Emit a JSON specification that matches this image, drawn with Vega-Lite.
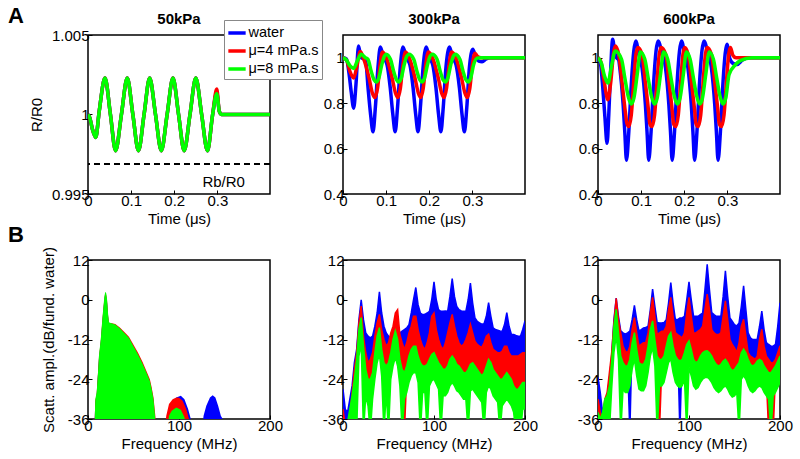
{
"$schema": "https://vega.github.io/schema/vega-lite/v6.json",
"padding": {"left": 7, "top": 4, "right": 5, "bottom": 5},
"background": "white",
"config": {
  "font": "Liberation Sans",
  "view": {"stroke": "black", "strokeWidth": 1.5},
  "axis": {"domain": false, "grid": false, "labelFontSize": 15, "labelColor": "black", "titleFontSize": 15, "titleFontWeight": "normal", "titleColor": "black", "tickColor": "black", "tickSize": -4, "tickWidth": 1, "labelPadding": 3, "labelFlush": false, "labelOverlap": false, "labelBound": false},
  "axisY": {"titlePadding": 7},
  "axisX": {"titlePadding": 3}
},
"datasets": {
"a1": [
{"s":"water","t":0,"v":1},{"s":"water","t":0.004,"v":0.9998},{"s":"water","t":0.01,"v":0.9991},{"s":"water","t":0.018,"v":0.99856},{"s":"water","t":0.026,"v":1.0002},{"s":"water","t":0.0394,"v":1.0023},{"s":"water","t":0.052,"v":1},{"s":"water","t":0.064,"v":0.99772},{"s":"water","t":0.0775,"v":1},{"s":"water","t":0.091,"v":1.0023},{"s":"water","t":0.104,"v":1},{"s":"water","t":0.117,"v":0.99772},{"s":"water","t":0.13,"v":1},{"s":"water","t":0.143,"v":1.0023},{"s":"water","t":0.1565,"v":1},{"s":"water","t":0.17,"v":0.99772},{"s":"water","t":0.1835,"v":1},{"s":"water","t":0.197,"v":1.0023},{"s":"water","t":0.21,"v":1},{"s":"water","t":0.223,"v":0.99772},{"s":"water","t":0.2365,"v":1},{"s":"water","t":0.25,"v":1.0023},{"s":"water","t":0.2635,"v":1},{"s":"water","t":0.277,"v":0.99772},{"s":"water","t":0.289,"v":1},{"s":"water","t":0.2985,"v":1.0014},{"s":"water","t":0.3045,"v":1.0002},{"s":"water","t":0.31,"v":1},{"s":"water","t":0.422,"v":1},
{"s":"μ=4 mPa.s","t":0,"v":1},{"s":"μ=4 mPa.s","t":0.004,"v":0.9998},{"s":"μ=4 mPa.s","t":0.01,"v":0.9991},{"s":"μ=4 mPa.s","t":0.018,"v":0.99856},{"s":"μ=4 mPa.s","t":0.026,"v":1.0002},{"s":"μ=4 mPa.s","t":0.0394,"v":1.0023},{"s":"μ=4 mPa.s","t":0.052,"v":1},{"s":"μ=4 mPa.s","t":0.064,"v":0.99772},{"s":"μ=4 mPa.s","t":0.0775,"v":1},{"s":"μ=4 mPa.s","t":0.091,"v":1.0023},{"s":"μ=4 mPa.s","t":0.104,"v":1},{"s":"μ=4 mPa.s","t":0.117,"v":0.99772},{"s":"μ=4 mPa.s","t":0.13,"v":1},{"s":"μ=4 mPa.s","t":0.143,"v":1.0023},{"s":"μ=4 mPa.s","t":0.1565,"v":1},{"s":"μ=4 mPa.s","t":0.17,"v":0.99772},{"s":"μ=4 mPa.s","t":0.1835,"v":1},{"s":"μ=4 mPa.s","t":0.197,"v":1.0023},{"s":"μ=4 mPa.s","t":0.21,"v":1},{"s":"μ=4 mPa.s","t":0.223,"v":0.99772},{"s":"μ=4 mPa.s","t":0.2365,"v":1},{"s":"μ=4 mPa.s","t":0.25,"v":1.0023},{"s":"μ=4 mPa.s","t":0.2635,"v":1},{"s":"μ=4 mPa.s","t":0.277,"v":0.99772},{"s":"μ=4 mPa.s","t":0.289,"v":1},{"s":"μ=4 mPa.s","t":0.2985,"v":1.0016},{"s":"μ=4 mPa.s","t":0.3045,"v":1.0002},{"s":"μ=4 mPa.s","t":0.31,"v":1},{"s":"μ=4 mPa.s","t":0.422,"v":1},
{"s":"μ=8 mPa.s","t":0,"v":1},{"s":"μ=8 mPa.s","t":0.004,"v":0.9998},{"s":"μ=8 mPa.s","t":0.01,"v":0.9991},{"s":"μ=8 mPa.s","t":0.018,"v":0.99856},{"s":"μ=8 mPa.s","t":0.026,"v":1.0002},{"s":"μ=8 mPa.s","t":0.0394,"v":1.0023},{"s":"μ=8 mPa.s","t":0.052,"v":1},{"s":"μ=8 mPa.s","t":0.064,"v":0.99772},{"s":"μ=8 mPa.s","t":0.0775,"v":1},{"s":"μ=8 mPa.s","t":0.091,"v":1.0023},{"s":"μ=8 mPa.s","t":0.104,"v":1},{"s":"μ=8 mPa.s","t":0.117,"v":0.99772},{"s":"μ=8 mPa.s","t":0.13,"v":1},{"s":"μ=8 mPa.s","t":0.143,"v":1.0023},{"s":"μ=8 mPa.s","t":0.1565,"v":1},{"s":"μ=8 mPa.s","t":0.17,"v":0.99772},{"s":"μ=8 mPa.s","t":0.1835,"v":1},{"s":"μ=8 mPa.s","t":0.197,"v":1.0023},{"s":"μ=8 mPa.s","t":0.21,"v":1},{"s":"μ=8 mPa.s","t":0.223,"v":0.99772},{"s":"μ=8 mPa.s","t":0.2365,"v":1},{"s":"μ=8 mPa.s","t":0.25,"v":1.0023},{"s":"μ=8 mPa.s","t":0.2635,"v":1},{"s":"μ=8 mPa.s","t":0.277,"v":0.99772},{"s":"μ=8 mPa.s","t":0.289,"v":1},{"s":"μ=8 mPa.s","t":0.2985,"v":1.0013},{"s":"μ=8 mPa.s","t":0.3045,"v":1.0002},{"s":"μ=8 mPa.s","t":0.31,"v":1},{"s":"μ=8 mPa.s","t":0.422,"v":1}
],
"a2": [
{"s":"water","t":0,"v":1},{"s":"water","t":0.008,"v":0.995},{"s":"water","t":0.014,"v":0.93},{"s":"water","t":0.019,"v":0.85},{"s":"water","t":0.0247,"v":0.778},{"s":"water","t":0.03,"v":0.88},{"s":"water","t":0.036,"v":1.052},{"s":"water","t":0.042,"v":1},{"s":"water","t":0.048,"v":0.995},{"s":"water","t":0.053,"v":0.98},{"s":"water","t":0.058,"v":0.87},{"s":"water","t":0.064,"v":0.75},{"s":"water","t":0.0696,"v":0.674},{"s":"water","t":0.075,"v":0.78},{"s":"water","t":0.081,"v":0.955},{"s":"water","t":0.0866,"v":1.047},{"s":"water","t":0.094,"v":1},{"s":"water","t":0.102,"v":0.97},{"s":"water","t":0.1094,"v":0.87},{"s":"water","t":0.1156,"v":0.75},{"s":"water","t":0.121,"v":0.674},{"s":"water","t":0.1264,"v":0.78},{"s":"water","t":0.1326,"v":0.955},{"s":"water","t":0.139,"v":1.047},{"s":"water","t":0.147,"v":1},{"s":"water","t":0.155,"v":0.97},{"s":"water","t":0.1624,"v":0.87},{"s":"water","t":0.1686,"v":0.75},{"s":"water","t":0.174,"v":0.674},{"s":"water","t":0.1794,"v":0.78},{"s":"water","t":0.1856,"v":0.955},{"s":"water","t":0.193,"v":1.047},{"s":"water","t":0.2,"v":1},{"s":"water","t":0.208,"v":0.97},{"s":"water","t":0.2154,"v":0.87},{"s":"water","t":0.2216,"v":0.75},{"s":"water","t":0.227,"v":0.674},{"s":"water","t":0.2324,"v":0.78},{"s":"water","t":0.2386,"v":0.955},{"s":"water","t":0.247,"v":1.047},{"s":"water","t":0.254,"v":1},{"s":"water","t":0.262,"v":0.97},{"s":"water","t":0.2698,"v":0.87},{"s":"water","t":0.276,"v":0.75},{"s":"water","t":0.2815,"v":0.674},{"s":"water","t":0.287,"v":0.78},{"s":"water","t":0.293,"v":0.955},{"s":"water","t":0.301,"v":1.037},{"s":"water","t":0.308,"v":1},{"s":"water","t":0.315,"v":0.985},{"s":"water","t":0.3225,"v":0.982},{"s":"water","t":0.332,"v":0.995},{"s":"water","t":0.342,"v":1},{"s":"water","t":0.422,"v":1},
{"s":"μ=4 mPa.s","t":0,"v":1},{"s":"μ=4 mPa.s","t":0.008,"v":0.99},{"s":"μ=4 mPa.s","t":0.016,"v":0.94},{"s":"μ=4 mPa.s","t":0.0247,"v":0.911},{"s":"μ=4 mPa.s","t":0.032,"v":0.96},{"s":"μ=4 mPa.s","t":0.04,"v":1.027},{"s":"μ=4 mPa.s","t":0.048,"v":0.995},{"s":"μ=4 mPa.s","t":0.0605,"v":0.91},{"s":"μ=4 mPa.s","t":0.068,"v":0.845},{"s":"μ=4 mPa.s","t":0.0735,"v":0.825},{"s":"μ=4 mPa.s","t":0.08,"v":0.865},{"s":"μ=4 mPa.s","t":0.086,"v":0.97},{"s":"μ=4 mPa.s","t":0.0915,"v":1.025},{"s":"μ=4 mPa.s","t":0.102,"v":0.993},{"s":"μ=4 mPa.s","t":0.114,"v":0.91},{"s":"μ=4 mPa.s","t":0.1216,"v":0.845},{"s":"μ=4 mPa.s","t":0.127,"v":0.825},{"s":"μ=4 mPa.s","t":0.133,"v":0.865},{"s":"μ=4 mPa.s","t":0.139,"v":0.97},{"s":"μ=4 mPa.s","t":0.1448,"v":1.025},{"s":"μ=4 mPa.s","t":0.155,"v":0.993},{"s":"μ=4 mPa.s","t":0.167,"v":0.91},{"s":"μ=4 mPa.s","t":0.1746,"v":0.845},{"s":"μ=4 mPa.s","t":0.18,"v":0.825},{"s":"μ=4 mPa.s","t":0.186,"v":0.865},{"s":"μ=4 mPa.s","t":0.192,"v":0.97},{"s":"μ=4 mPa.s","t":0.1978,"v":1.025},{"s":"μ=4 mPa.s","t":0.209,"v":0.993},{"s":"μ=4 mPa.s","t":0.221,"v":0.91},{"s":"μ=4 mPa.s","t":0.2286,"v":0.845},{"s":"μ=4 mPa.s","t":0.234,"v":0.825},{"s":"μ=4 mPa.s","t":0.24,"v":0.865},{"s":"μ=4 mPa.s","t":0.246,"v":0.97},{"s":"μ=4 mPa.s","t":0.2518,"v":1.025},{"s":"μ=4 mPa.s","t":0.263,"v":0.993},{"s":"μ=4 mPa.s","t":0.275,"v":0.91},{"s":"μ=4 mPa.s","t":0.2826,"v":0.845},{"s":"μ=4 mPa.s","t":0.288,"v":0.825},{"s":"μ=4 mPa.s","t":0.294,"v":0.865},{"s":"μ=4 mPa.s","t":0.3,"v":0.97},{"s":"μ=4 mPa.s","t":0.306,"v":1.02},{"s":"μ=4 mPa.s","t":0.312,"v":1.005},{"s":"μ=4 mPa.s","t":0.32,"v":1},{"s":"μ=4 mPa.s","t":0.422,"v":1},
{"s":"μ=8 mPa.s","t":0,"v":1},{"s":"μ=8 mPa.s","t":0.008,"v":0.99},{"s":"μ=8 mPa.s","t":0.016,"v":0.965},{"s":"μ=8 mPa.s","t":0.0247,"v":0.953},{"s":"μ=8 mPa.s","t":0.033,"v":0.985},{"s":"μ=8 mPa.s","t":0.042,"v":1.015},{"s":"μ=8 mPa.s","t":0.052,"v":1},{"s":"μ=8 mPa.s","t":0.058,"v":0.993},{"s":"μ=8 mPa.s","t":0.0654,"v":0.94},{"s":"μ=8 mPa.s","t":0.0716,"v":0.904},{"s":"μ=8 mPa.s","t":0.077,"v":0.893},{"s":"μ=8 mPa.s","t":0.083,"v":0.91},{"s":"μ=8 mPa.s","t":0.09,"v":0.97},{"s":"μ=8 mPa.s","t":0.096,"v":1.007},{"s":"μ=8 mPa.s","t":0.1,"v":1.015},{"s":"μ=8 mPa.s","t":0.11,"v":0.993},{"s":"μ=8 mPa.s","t":0.1174,"v":0.94},{"s":"μ=8 mPa.s","t":0.1236,"v":0.904},{"s":"μ=8 mPa.s","t":0.129,"v":0.893},{"s":"μ=8 mPa.s","t":0.135,"v":0.91},{"s":"μ=8 mPa.s","t":0.142,"v":0.97},{"s":"μ=8 mPa.s","t":0.148,"v":1.007},{"s":"μ=8 mPa.s","t":0.153,"v":1.015},{"s":"μ=8 mPa.s","t":0.164,"v":0.993},{"s":"μ=8 mPa.s","t":0.1714,"v":0.94},{"s":"μ=8 mPa.s","t":0.1776,"v":0.904},{"s":"μ=8 mPa.s","t":0.183,"v":0.893},{"s":"μ=8 mPa.s","t":0.189,"v":0.91},{"s":"μ=8 mPa.s","t":0.196,"v":0.97},{"s":"μ=8 mPa.s","t":0.202,"v":1.007},{"s":"μ=8 mPa.s","t":0.207,"v":1.015},{"s":"μ=8 mPa.s","t":0.218,"v":0.993},{"s":"μ=8 mPa.s","t":0.2254,"v":0.94},{"s":"μ=8 mPa.s","t":0.2316,"v":0.904},{"s":"μ=8 mPa.s","t":0.237,"v":0.893},{"s":"μ=8 mPa.s","t":0.243,"v":0.91},{"s":"μ=8 mPa.s","t":0.25,"v":0.97},{"s":"μ=8 mPa.s","t":0.256,"v":1.007},{"s":"μ=8 mPa.s","t":0.26,"v":1.015},{"s":"μ=8 mPa.s","t":0.271,"v":0.993},{"s":"μ=8 mPa.s","t":0.2784,"v":0.94},{"s":"μ=8 mPa.s","t":0.2846,"v":0.904},{"s":"μ=8 mPa.s","t":0.29,"v":0.893},{"s":"μ=8 mPa.s","t":0.296,"v":0.91},{"s":"μ=8 mPa.s","t":0.303,"v":0.97},{"s":"μ=8 mPa.s","t":0.311,"v":0.998},{"s":"μ=8 mPa.s","t":0.32,"v":1},{"s":"μ=8 mPa.s","t":0.422,"v":1}
],
"a3": [
{"s":"water","t":0,"v":1},{"s":"water","t":0.006,"v":0.97},{"s":"water","t":0.011,"v":0.87},{"s":"water","t":0.016,"v":0.74},{"s":"water","t":0.021,"v":0.623},{"s":"water","t":0.025,"v":0.75},{"s":"water","t":0.029,"v":0.93},{"s":"water","t":0.034,"v":1.081},{"s":"water","t":0.039,"v":1.02},{"s":"water","t":0.043,"v":1},{"s":"water","t":0.048,"v":0.99},{"s":"water","t":0.0505,"v":0.956},{"s":"water","t":0.0583,"v":0.793},{"s":"water","t":0.0621,"v":0.674},{"s":"water","t":0.066,"v":0.549},{"s":"water","t":0.0714,"v":0.674},{"s":"water","t":0.0776,"v":0.896},{"s":"water","t":0.083,"v":1.03},{"s":"water","t":0.0876,"v":1.074},{"s":"water","t":0.0946,"v":1.015},{"s":"water","t":0.1021,"v":0.956},{"s":"water","t":0.1099,"v":0.793},{"s":"water","t":0.1137,"v":0.674},{"s":"water","t":0.1176,"v":0.549},{"s":"water","t":0.123,"v":0.674},{"s":"water","t":0.1292,"v":0.896},{"s":"water","t":0.1346,"v":1.03},{"s":"water","t":0.1392,"v":1.074},{"s":"water","t":0.149,"v":1.015},{"s":"water","t":0.1565,"v":0.956},{"s":"water","t":0.1643,"v":0.793},{"s":"water","t":0.1681,"v":0.674},{"s":"water","t":0.172,"v":0.549},{"s":"water","t":0.1774,"v":0.674},{"s":"water","t":0.1836,"v":0.896},{"s":"water","t":0.189,"v":1.03},{"s":"water","t":0.1936,"v":1.074},{"s":"water","t":0.201,"v":1.015},{"s":"water","t":0.2085,"v":0.956},{"s":"water","t":0.2163,"v":0.793},{"s":"water","t":0.2201,"v":0.674},{"s":"water","t":0.224,"v":0.549},{"s":"water","t":0.2294,"v":0.674},{"s":"water","t":0.2356,"v":0.896},{"s":"water","t":0.241,"v":1.03},{"s":"water","t":0.2456,"v":1.074},{"s":"water","t":0.2554,"v":1.015},{"s":"water","t":0.2629,"v":0.956},{"s":"water","t":0.2707,"v":0.793},{"s":"water","t":0.2745,"v":0.674},{"s":"water","t":0.2784,"v":0.549},{"s":"water","t":0.2838,"v":0.674},{"s":"water","t":0.29,"v":0.896},{"s":"water","t":0.295,"v":1.02},{"s":"water","t":0.299,"v":1.059},{"s":"water","t":0.305,"v":1},{"s":"water","t":0.313,"v":0.975},{"s":"water","t":0.3225,"v":0.97},{"s":"water","t":0.335,"v":0.99},{"s":"water","t":0.35,"v":1},{"s":"water","t":0.422,"v":1},
{"s":"μ=4 mPa.s","t":0,"v":1},{"s":"μ=4 mPa.s","t":0.007,"v":0.98},{"s":"μ=4 mPa.s","t":0.014,"v":0.9},{"s":"μ=4 mPa.s","t":0.023,"v":0.815},{"s":"μ=4 mPa.s","t":0.03,"v":0.9},{"s":"μ=4 mPa.s","t":0.036,"v":1.02},{"s":"μ=4 mPa.s","t":0.04,"v":1.052},{"s":"μ=4 mPa.s","t":0.048,"v":1.015},{"s":"μ=4 mPa.s","t":0.0555,"v":0.896},{"s":"μ=4 mPa.s","t":0.0633,"v":0.763},{"s":"μ=4 mPa.s","t":0.067,"v":0.711},{"s":"μ=4 mPa.s","t":0.071,"v":0.697},{"s":"μ=4 mPa.s","t":0.0772,"v":0.748},{"s":"μ=4 mPa.s","t":0.0834,"v":0.91},{"s":"μ=4 mPa.s","t":0.088,"v":1.015},{"s":"μ=4 mPa.s","t":0.0925,"v":1.045},{"s":"μ=4 mPa.s","t":0.102,"v":1.015},{"s":"μ=4 mPa.s","t":0.1095,"v":0.896},{"s":"μ=4 mPa.s","t":0.1173,"v":0.763},{"s":"μ=4 mPa.s","t":0.12,"v":0.711},{"s":"μ=4 mPa.s","t":0.125,"v":0.697},{"s":"μ=4 mPa.s","t":0.1312,"v":0.748},{"s":"μ=4 mPa.s","t":0.1374,"v":0.91},{"s":"μ=4 mPa.s","t":0.142,"v":1.015},{"s":"μ=4 mPa.s","t":0.1465,"v":1.045},{"s":"μ=4 mPa.s","t":0.157,"v":1.015},{"s":"μ=4 mPa.s","t":0.1645,"v":0.896},{"s":"μ=4 mPa.s","t":0.1723,"v":0.763},{"s":"μ=4 mPa.s","t":0.175,"v":0.711},{"s":"μ=4 mPa.s","t":0.18,"v":0.697},{"s":"μ=4 mPa.s","t":0.1862,"v":0.748},{"s":"μ=4 mPa.s","t":0.1924,"v":0.91},{"s":"μ=4 mPa.s","t":0.197,"v":1.015},{"s":"μ=4 mPa.s","t":0.201,"v":1.045},{"s":"μ=4 mPa.s","t":0.209,"v":1.015},{"s":"μ=4 mPa.s","t":0.2165,"v":0.896},{"s":"μ=4 mPa.s","t":0.2243,"v":0.763},{"s":"μ=4 mPa.s","t":0.227,"v":0.711},{"s":"μ=4 mPa.s","t":0.232,"v":0.697},{"s":"μ=4 mPa.s","t":0.2382,"v":0.748},{"s":"μ=4 mPa.s","t":0.2444,"v":0.91},{"s":"μ=4 mPa.s","t":0.249,"v":1.015},{"s":"μ=4 mPa.s","t":0.253,"v":1.045},{"s":"μ=4 mPa.s","t":0.263,"v":1.015},{"s":"μ=4 mPa.s","t":0.2705,"v":0.896},{"s":"μ=4 mPa.s","t":0.2783,"v":0.763},{"s":"μ=4 mPa.s","t":0.281,"v":0.711},{"s":"μ=4 mPa.s","t":0.286,"v":0.697},{"s":"μ=4 mPa.s","t":0.2922,"v":0.748},{"s":"μ=4 mPa.s","t":0.2984,"v":0.91},{"s":"μ=4 mPa.s","t":0.303,"v":1.015},{"s":"μ=4 mPa.s","t":0.307,"v":1.045},{"s":"μ=4 mPa.s","t":0.313,"v":1.01},{"s":"μ=4 mPa.s","t":0.32,"v":1},{"s":"μ=4 mPa.s","t":0.422,"v":1},
{"s":"μ=8 mPa.s","t":0,"v":1},{"s":"μ=8 mPa.s","t":0.008,"v":0.975},{"s":"μ=8 mPa.s","t":0.015,"v":0.92},{"s":"μ=8 mPa.s","t":0.023,"v":0.889},{"s":"μ=8 mPa.s","t":0.031,"v":0.96},{"s":"μ=8 mPa.s","t":0.04,"v":1.03},{"s":"μ=8 mPa.s","t":0.0546,"v":0.993},{"s":"μ=8 mPa.s","t":0.0623,"v":0.91},{"s":"μ=8 mPa.s","t":0.07,"v":0.83},{"s":"μ=8 mPa.s","t":0.077,"v":0.796},{"s":"μ=8 mPa.s","t":0.0832,"v":0.822},{"s":"μ=8 mPa.s","t":0.0909,"v":0.926},{"s":"μ=8 mPa.s","t":0.098,"v":1.025},{"s":"μ=8 mPa.s","t":0.1086,"v":0.993},{"s":"μ=8 mPa.s","t":0.1163,"v":0.91},{"s":"μ=8 mPa.s","t":0.124,"v":0.83},{"s":"μ=8 mPa.s","t":0.131,"v":0.796},{"s":"μ=8 mPa.s","t":0.1372,"v":0.822},{"s":"μ=8 mPa.s","t":0.1449,"v":0.926},{"s":"μ=8 mPa.s","t":0.152,"v":1.025},{"s":"μ=8 mPa.s","t":0.1616,"v":0.993},{"s":"μ=8 mPa.s","t":0.1693,"v":0.91},{"s":"μ=8 mPa.s","t":0.177,"v":0.83},{"s":"μ=8 mPa.s","t":0.184,"v":0.796},{"s":"μ=8 mPa.s","t":0.1902,"v":0.822},{"s":"μ=8 mPa.s","t":0.1979,"v":0.926},{"s":"μ=8 mPa.s","t":0.205,"v":1.025},{"s":"μ=8 mPa.s","t":0.2136,"v":0.993},{"s":"μ=8 mPa.s","t":0.2213,"v":0.91},{"s":"μ=8 mPa.s","t":0.229,"v":0.83},{"s":"μ=8 mPa.s","t":0.236,"v":0.796},{"s":"μ=8 mPa.s","t":0.2422,"v":0.822},{"s":"μ=8 mPa.s","t":0.2499,"v":0.926},{"s":"μ=8 mPa.s","t":0.258,"v":1.025},{"s":"μ=8 mPa.s","t":0.2676,"v":0.993},{"s":"μ=8 mPa.s","t":0.2753,"v":0.91},{"s":"μ=8 mPa.s","t":0.283,"v":0.83},{"s":"μ=8 mPa.s","t":0.29,"v":0.796},{"s":"μ=8 mPa.s","t":0.2962,"v":0.822},{"s":"μ=8 mPa.s","t":0.304,"v":0.926},{"s":"μ=8 mPa.s","t":0.319,"v":0.97},{"s":"μ=8 mPa.s","t":0.33,"v":0.987},{"s":"μ=8 mPa.s","t":0.357,"v":1},{"s":"μ=8 mPa.s","t":0.422,"v":1}
],
"b1": [
{"s":"w","f":0,"v":-40},{"s":"w","f":7,"v":-40},{"s":"w","f":8,"v":-31},{"s":"w","f":9.5,"v":-29},{"s":"w","f":12,"v":-18},{"s":"w","f":14,"v":-13},{"s":"w","f":16,"v":-6},{"s":"w","f":18,"v":0},{"s":"w","f":19,"v":1.5},{"s":"w","f":20,"v":1},{"s":"w","f":21,"v":-1},{"s":"w","f":22,"v":-5},{"s":"w","f":23,"v":-7.5},{"s":"w","f":30,"v":-8},{"s":"w","f":40,"v":-10.5},{"s":"w","f":50,"v":-14.5},{"s":"w","f":60,"v":-19.8},{"s":"w","f":68,"v":-25},{"s":"w","f":72,"v":-30.5},{"s":"w","f":74,"v":-40},{"s":"w","f":85,"v":-40},{"s":"w","f":87,"v":-35},{"s":"w","f":92,"v":-31},{"s":"w","f":97,"v":-29.5},{"s":"w","f":102,"v":-29},{"s":"w","f":106,"v":-30},{"s":"w","f":110,"v":-33},{"s":"w","f":113,"v":-36},{"s":"w","f":114,"v":-40},{"s":"w","f":125,"v":-40},{"s":"w","f":127,"v":-35},{"s":"w","f":130,"v":-32},{"s":"w","f":134,"v":-29.5},{"s":"w","f":137,"v":-28.8},{"s":"w","f":140,"v":-29.5},{"s":"w","f":143,"v":-32},{"s":"w","f":146,"v":-35},{"s":"w","f":148,"v":-36},{"s":"w","f":149,"v":-40},{"s":"w","f":200,"v":-40},
{"s":"r","f":0,"v":-40},{"s":"r","f":7,"v":-40},{"s":"r","f":8,"v":-30.5},{"s":"r","f":9.5,"v":-28.5},{"s":"r","f":12,"v":-17.5},{"s":"r","f":14,"v":-12.5},{"s":"r","f":16,"v":-5.5},{"s":"r","f":18,"v":0.5},{"s":"r","f":19,"v":2},{"s":"r","f":20,"v":1.5},{"s":"r","f":21,"v":-0.5},{"s":"r","f":22,"v":-4.5},{"s":"r","f":23,"v":-7},{"s":"r","f":25,"v":-7},{"s":"r","f":30,"v":-7.3},{"s":"r","f":35,"v":-8.4},{"s":"r","f":40,"v":-9.7},{"s":"r","f":45,"v":-11.2},{"s":"r","f":50,"v":-13.6},{"s":"r","f":55,"v":-16},{"s":"r","f":60,"v":-18.8},{"s":"r","f":65,"v":-22},{"s":"r","f":68,"v":-24},{"s":"r","f":70,"v":-26.5},{"s":"r","f":72,"v":-29.5},{"s":"r","f":74,"v":-35},{"s":"r","f":75,"v":-40},{"s":"r","f":84,"v":-40},{"s":"r","f":86,"v":-35},{"s":"r","f":89,"v":-31.5},{"s":"r","f":93,"v":-30},{"s":"r","f":97,"v":-29.5},{"s":"r","f":100,"v":-29.6},{"s":"r","f":104,"v":-30.5},{"s":"r","f":108,"v":-33},{"s":"r","f":111,"v":-36},{"s":"r","f":112,"v":-40},{"s":"r","f":200,"v":-40},
{"s":"g","f":0,"v":-40},{"s":"g","f":7,"v":-40},{"s":"g","f":8,"v":-30},{"s":"g","f":9.5,"v":-28},{"s":"g","f":11,"v":-22},{"s":"g","f":12,"v":-17},{"s":"g","f":14,"v":-12},{"s":"g","f":16,"v":-5},{"s":"g","f":18,"v":1},{"s":"g","f":19,"v":2.4},{"s":"g","f":20,"v":2},{"s":"g","f":21,"v":0},{"s":"g","f":22,"v":-4},{"s":"g","f":23,"v":-6.8},{"s":"g","f":25,"v":-7},{"s":"g","f":30,"v":-7.5},{"s":"g","f":35,"v":-8.6},{"s":"g","f":40,"v":-10},{"s":"g","f":45,"v":-11.5},{"s":"g","f":50,"v":-14},{"s":"g","f":55,"v":-16.5},{"s":"g","f":60,"v":-19.3},{"s":"g","f":65,"v":-22.5},{"s":"g","f":68,"v":-24.5},{"s":"g","f":70,"v":-27},{"s":"g","f":72,"v":-30},{"s":"g","f":74,"v":-36},{"s":"g","f":75,"v":-40},{"s":"g","f":87,"v":-40},{"s":"g","f":89,"v":-35},{"s":"g","f":92,"v":-33.5},{"s":"g","f":97,"v":-32.5},{"s":"g","f":102,"v":-33.2},{"s":"g","f":106,"v":-35.5},{"s":"g","f":108,"v":-40},{"s":"g","f":200,"v":-40}
],
"b2": [
{"f":0,"w":-27,"wl":-40,"r":-33,"rl":-40,"g":-40,"gl":-40},
{"f":2.5,"w":-33,"wl":-40,"r":-38,"rl":-40,"g":-40,"gl":-40},
{"f":5,"w":-34,"wl":-40,"r":-40,"rl":-40,"g":-37,"gl":-40},
{"f":7.5,"w":-30,"wl":-40,"r":-35,"rl":-40,"g":-33,"gl":-40},
{"f":10,"w":-26,"wl":-40,"r":-28,"rl":-40,"g":-29,"gl":-40},
{"f":12.5,"w":-19,"wl":-24,"r":-21,"rl":-27,"g":-24,"gl":-40},
{"f":15,"w":-15,"wl":-19,"r":-16,"rl":-21,"g":-18,"gl":-40},
{"f":17.5,"w":-6,"wl":-10,"r":-7,"rl":-12,"g":-9,"gl":-17},
{"f":20,"w":0,"wl":-4.9,"r":-1.9,"rl":-8.4,"g":-5.4,"gl":-13.4},
{"f":22.5,"w":-6,"wl":-14,"r":-11,"rl":-17,"g":-14,"gl":-40},
{"f":25,"w":-10,"wl":-19,"r":-16,"rl":-24,"g":-21,"gl":-29},
{"f":27.5,"w":-11,"wl":-22,"r":-19,"rl":-27,"g":-24,"gl":-32},
{"f":30,"w":-11.5,"wl":-21,"r":-18,"rl":-27,"g":-24,"gl":-40},
{"f":32.5,"w":-11,"wl":-19,"r":-16,"rl":-25,"g":-22,"gl":-30},
{"f":35,"w":-8,"wl":-14,"r":-11,"rl":-19,"g":-16,"gl":-24},
{"f":37.5,"w":-4,"wl":-10,"r":-7,"rl":-14,"g":-11,"gl":-19},
{"f":40,"w":2.4,"wl":-7.4,"r":-4.4,"rl":-11.4,"g":-8.4,"gl":-16.4},
{"f":42.5,"w":-4,"wl":-12,"r":-9,"rl":-18,"g":-15,"gl":-23},
{"f":45,"w":-8,"wl":-15,"r":-12,"rl":-22,"g":-19,"gl":-40},
{"f":47.5,"w":-10,"wl":-17,"r":-14,"rl":-23,"g":-20,"gl":-28},
{"f":50,"w":-11,"wl":-16,"r":-13,"rl":-22,"g":-19,"gl":-40},
{"f":52.5,"w":-11.5,"wl":-13,"r":-10,"rl":-19,"g":-16,"gl":-24},
{"f":55,"w":-11,"wl":-12.5,"r":-8,"rl":-15,"g":-12,"gl":-20},
{"f":57.5,"w":-10.5,"wl":-12,"r":-4,"rl":-12.4,"g":-9.4,"gl":-17.4},
{"f":60,"w":-9,"wl":-10.5,"r":-3,"rl":-15,"g":-12,"gl":-20},
{"f":62.5,"w":-10,"wl":-13.5,"r":-10.5,"rl":-21,"g":-18,"gl":-26},
{"f":65,"w":-9.5,"wl":-16,"r":-13,"rl":-24,"g":-21,"gl":-40},
{"f":67.5,"w":-9,"wl":-18,"r":-15,"rl":-40,"g":-22,"gl":-30},
{"f":70,"w":-8.5,"wl":-16,"r":-13,"rl":-23,"g":-20,"gl":-28},
{"f":72.5,"w":-7.5,"wl":-13,"r":-10,"rl":-20,"g":-17,"gl":-25},
{"f":75,"w":-4,"wl":-11,"r":-8,"rl":-18,"g":-15,"gl":-23},
{"f":77.5,"w":0,"wl":-8,"r":-5,"rl":-17,"g":-14,"gl":-22},
{"f":80,"w":3.7,"wl":-8,"r":-5,"rl":-17,"g":-14,"gl":-22},
{"f":82.5,"w":-1.5,"wl":-12,"r":-9,"rl":-20,"g":-17,"gl":-25},
{"f":85,"w":-4,"wl":-15,"r":-12,"rl":-22,"g":-19,"gl":-40},
{"f":87.5,"w":-4.5,"wl":-17,"r":-14,"rl":-23,"g":-20,"gl":-28},
{"f":90,"w":-4.4,"wl":-18,"r":-15,"rl":-23,"g":-20,"gl":-28},
{"f":92.5,"w":-4,"wl":-16,"r":-13,"rl":-22.5,"g":-19.5,"gl":-40},
{"f":95,"w":-3.5,"wl":-13,"r":-10,"rl":-21,"g":-18,"gl":-26},
{"f":97.5,"w":0,"wl":-8,"r":-5,"rl":-19.5,"g":-16.5,"gl":-24.5},
{"f":100,"w":5.4,"wl":-7,"r":-4,"rl":-19,"g":-16,"gl":-24},
{"f":102.5,"w":0,"wl":-12,"r":-9,"rl":-20.5,"g":-17.5,"gl":-25.5},
{"f":105,"w":-3,"wl":-15,"r":-12,"rl":-22,"g":-19,"gl":-27},
{"f":107.5,"w":-3.5,"wl":-17,"r":-14,"rl":-23,"g":-20,"gl":-40},
{"f":110,"w":-3.5,"wl":-18,"r":-15,"rl":-24,"g":-21,"gl":-29},
{"f":112.5,"w":-3.4,"wl":-16,"r":-13,"rl":-24,"g":-21,"gl":-29},
{"f":115,"w":-3.5,"wl":-13,"r":-10,"rl":-23,"g":-20,"gl":-28},
{"f":117.5,"w":1,"wl":-10,"r":-7,"rl":-21,"g":-18,"gl":-26},
{"f":120,"w":6.4,"wl":-7.4,"r":-4.4,"rl":-20,"g":-17,"gl":-25},
{"f":122.5,"w":1,"wl":-11,"r":-8,"rl":-21,"g":-18,"gl":-26},
{"f":125,"w":-2,"wl":-14,"r":-11,"rl":-22.5,"g":-19.5,"gl":-27.5},
{"f":127.5,"w":-3,"wl":-16,"r":-13,"rl":-23,"g":-20,"gl":-28},
{"f":130,"w":-3.4,"wl":-17,"r":-14,"rl":-24,"g":-21,"gl":-29},
{"f":132.5,"w":-3.5,"wl":-16.5,"r":-13.5,"rl":-25,"g":-22,"gl":-30},
{"f":135,"w":-3.5,"wl":-15,"r":-12,"rl":-25,"g":-22,"gl":-30},
{"f":137.5,"w":0,"wl":-13,"r":-10,"rl":-24,"g":-21,"gl":-40},
{"f":140,"w":5,"wl":-10.4,"r":-7.4,"rl":-22.5,"g":-19.5,"gl":-27.5},
{"f":142.5,"w":-1,"wl":-13,"r":-10,"rl":-22,"g":-19,"gl":-27},
{"f":145,"w":-5.5,"wl":-15.5,"r":-12.5,"rl":-23,"g":-20,"gl":-28},
{"f":147.5,"w":-6.5,"wl":-16.5,"r":-13.5,"rl":-24,"g":-21,"gl":-29},
{"f":150,"w":-7,"wl":-17,"r":-14,"rl":-25,"g":-22,"gl":-30},
{"f":152.5,"w":-7.4,"wl":-17.4,"r":-14.4,"rl":-26,"g":-23,"gl":-31},
{"f":155,"w":-7.2,"wl":-16,"r":-13,"rl":-25,"g":-22,"gl":-40},
{"f":157.5,"w":-5,"wl":-14,"r":-11,"rl":-23,"g":-20,"gl":-28},
{"f":160,"w":-0.9,"wl":-13.4,"r":-10.4,"rl":-21,"g":-18,"gl":-26},
{"f":162.5,"w":-5,"wl":-16,"r":-13,"rl":-22,"g":-19,"gl":-27},
{"f":165,"w":-8.5,"wl":-18,"r":-15,"rl":-24,"g":-21,"gl":-29},
{"f":167.5,"w":-9,"wl":-18.5,"r":-15.5,"rl":-25,"g":-22,"gl":-30},
{"f":170,"w":-9.2,"wl":-19,"r":-16,"rl":-26,"g":-23,"gl":-31},
{"f":172.5,"w":-9.4,"wl":-19,"r":-16,"rl":-27,"g":-24,"gl":-40},
{"f":175,"w":-9.5,"wl":-18.5,"r":-15.5,"rl":-27,"g":-24,"gl":-32},
{"f":177.5,"w":-7.5,"wl":-17,"r":-14,"rl":-26,"g":-23,"gl":-31},
{"f":180,"w":-3.9,"wl":-17,"r":-14,"rl":-25,"g":-22,"gl":-30},
{"f":182.5,"w":-8,"wl":-19,"r":-16,"rl":-26,"g":-23,"gl":-31},
{"f":185,"w":-10.4,"wl":-20,"r":-17,"rl":-27,"g":-24,"gl":-32},
{"f":187.5,"w":-10.5,"wl":-20,"r":-17,"rl":-29,"g":-26,"gl":-34},
{"f":190,"w":-10.8,"wl":-20,"r":-17,"rl":-30,"g":-27,"gl":-40},
{"f":192.5,"w":-11,"wl":-20,"r":-17,"rl":-40,"g":-27,"gl":-34},
{"f":195,"w":-11,"wl":-19.5,"r":-16.5,"rl":-29,"g":-26,"gl":-40},
{"f":197.5,"w":-9,"wl":-19,"r":-16,"rl":-28,"g":-25,"gl":-33},
{"f":200,"w":-6.4,"wl":-19,"r":-16,"rl":-28,"g":-25,"gl":-33}
],
"b3": [
{"f":0,"w":-23.4,"wl":-40,"r":-30,"rl":-40,"g":-34,"gl":-40},
{"f":2.5,"w":-28,"wl":-40,"r":-34,"rl":-40,"g":-36,"gl":-40},
{"f":5,"w":-34,"wl":-40,"r":-36,"rl":-40,"g":-34,"gl":-40},
{"f":7.5,"w":-31,"wl":-33,"r":-30,"rl":-40,"g":-30,"gl":-40},
{"f":10,"w":-29,"wl":-31,"r":-28,"rl":-32,"g":-29,"gl":-40},
{"f":12.5,"w":-24,"wl":-25.5,"r":-22,"rl":-29,"g":-26,"gl":-40},
{"f":15,"w":-17,"wl":-19,"r":-16,"rl":-22,"g":-19,"gl":-27},
{"f":17.5,"w":-6,"wl":-9.9,"r":-6.9,"rl":-11,"g":-8,"gl":-16},
{"f":20,"w":0.5,"wl":-2.6,"r":0.4,"rl":-5.9,"g":-2.9,"gl":-10.9},
{"f":22.5,"w":-5,"wl":-9,"r":-6,"rl":-13,"g":-10,"gl":-18},
{"f":25,"w":-9.4,"wl":-13,"r":-10,"rl":-20,"g":-17,"gl":-40},
{"f":27.5,"w":-10,"wl":-17,"r":-14,"rl":-22,"g":-19,"gl":-27},
{"f":30,"w":-10.4,"wl":-18.5,"r":-15.5,"rl":-23,"g":-20,"gl":-28},
{"f":32.5,"w":-10,"wl":-19,"r":-16,"rl":-23,"g":-20,"gl":-28},
{"f":35,"w":-9.5,"wl":-40,"r":-14,"rl":-21,"g":-18,"gl":-26},
{"f":37.5,"w":-6,"wl":-12,"r":-9,"rl":-16,"g":-13,"gl":-21},
{"f":40,"w":-1.7,"wl":-8.4,"r":-5.4,"rl":-12.9,"g":-9.9,"gl":-17.9},
{"f":42.5,"w":-6,"wl":-13,"r":-10,"rl":-18,"g":-15,"gl":-23},
{"f":45,"w":-9.4,"wl":-17,"r":-14,"rl":-22,"g":-19,"gl":-27},
{"f":47.5,"w":-9,"wl":-16.5,"r":-13.5,"rl":-22.5,"g":-19.5,"gl":-27.5},
{"f":50,"w":-8.5,"wl":-16,"r":-13,"rl":-22.5,"g":-19.5,"gl":-27.5},
{"f":52.5,"w":-8.4,"wl":-15.9,"r":-12.9,"rl":-21,"g":-18,"gl":-26},
{"f":55,"w":-8,"wl":-13,"r":-10,"rl":-17,"g":-14,"gl":-22},
{"f":57.5,"w":-3,"wl":-7,"r":-4,"rl":-12,"g":-9,"gl":-17},
{"f":60,"w":3.2,"wl":-2.3,"r":0.7,"rl":-9.4,"g":-6.4,"gl":-14.4},
{"f":62.5,"w":-2,"wl":-8,"r":-5,"rl":-15,"g":-12,"gl":-20},
{"f":65,"w":-6.9,"wl":-13.4,"r":-10.4,"rl":-20,"g":-17,"gl":-40},
{"f":67.5,"w":-7,"wl":-13,"r":-10,"rl":-40,"g":-18,"gl":-26},
{"f":70,"w":-7,"wl":-12.5,"r":-9.5,"rl":-21,"g":-18,"gl":-26},
{"f":72.5,"w":-6.9,"wl":-12.4,"r":-9.4,"rl":-20,"g":-17,"gl":-25},
{"f":75,"w":-6,"wl":-11,"r":-8,"rl":-17,"g":-14,"gl":-22},
{"f":77.5,"w":-1,"wl":-6,"r":-3,"rl":-14,"g":-11,"gl":-19},
{"f":80,"w":5.2,"wl":-2.3,"r":0.7,"rl":-12.9,"g":-9.9,"gl":-17.9},
{"f":82.5,"w":-1,"wl":-8,"r":-5,"rl":-17,"g":-14,"gl":-22},
{"f":85,"w":-5.9,"wl":-12.9,"r":-9.9,"rl":-19.9,"g":-16.9,"gl":-24.9},
{"f":87.5,"w":-6,"wl":-13.5,"r":-10.5,"rl":-21,"g":-18,"gl":-26},
{"f":90,"w":-5.5,"wl":-40,"r":-11,"rl":-21.5,"g":-18.5,"gl":-26.5},
{"f":92.5,"w":-5.5,"wl":-14.5,"r":-11.5,"rl":-21,"g":-18,"gl":-26},
{"f":95,"w":-5,"wl":-13,"r":-10,"rl":-19,"g":-16,"gl":-24},
{"f":97.5,"w":0,"wl":-7,"r":-4,"rl":-16.5,"g":-13.5,"gl":-40},
{"f":100,"w":5.4,"wl":-2.3,"r":0.7,"rl":-15.4,"g":-12.4,"gl":-20.4},
{"f":102.5,"w":0,"wl":-8,"r":-5,"rl":-18,"g":-15,"gl":-23},
{"f":105,"w":-4.9,"wl":-13,"r":-10,"rl":-21,"g":-18,"gl":-26},
{"f":107.5,"w":-5,"wl":-13,"r":-10,"rl":-22,"g":-19,"gl":-27},
{"f":110,"w":-5,"wl":-12.5,"r":-9.5,"rl":-21.5,"g":-18.5,"gl":-26.5},
{"f":112.5,"w":-4.5,"wl":-12,"r":-9,"rl":-20,"g":-17,"gl":-25},
{"f":115,"w":-4,"wl":-11,"r":-8,"rl":-19,"g":-16,"gl":-24},
{"f":117.5,"w":3,"wl":-6,"r":-3,"rl":-18.5,"g":-15.5,"gl":-23.5},
{"f":120,"w":10.7,"wl":-1.3,"r":1.7,"rl":-18.4,"g":-15.4,"gl":-23.4},
{"f":122.5,"w":3,"wl":-6,"r":-3,"rl":-19,"g":-16,"gl":-24},
{"f":125,"w":-3.9,"wl":-12,"r":-9,"rl":-20,"g":-17,"gl":-25},
{"f":127.5,"w":-4.5,"wl":-13,"r":-10,"rl":-21.5,"g":-18.5,"gl":-26.5},
{"f":130,"w":-5,"wl":-13.5,"r":-10.5,"rl":-22.5,"g":-19.5,"gl":-27.5},
{"f":132.5,"w":-5,"wl":-13.5,"r":-10.5,"rl":-23,"g":-20,"gl":-28},
{"f":135,"w":-5,"wl":-13,"r":-10,"rl":-22.5,"g":-19.5,"gl":-27.5},
{"f":137.5,"w":1,"wl":-8,"r":-5,"rl":-21.5,"g":-18.5,"gl":-26.5},
{"f":140,"w":8.7,"wl":-3.3,"r":-0.3,"rl":-21,"g":-18,"gl":-26},
{"f":142.5,"w":1,"wl":-9,"r":-6,"rl":-22,"g":-19,"gl":-27},
{"f":145,"w":-5.5,"wl":-15,"r":-12,"rl":-23.5,"g":-20.5,"gl":-28.5},
{"f":147.5,"w":-6.5,"wl":-16.5,"r":-13.5,"rl":-24.4,"g":-21.4,"gl":-29.4},
{"f":150,"w":-7.5,"wl":-17.5,"r":-14.5,"rl":-24,"g":-21,"gl":-29},
{"f":152.5,"w":-7.9,"wl":-18.9,"r":-15.9,"rl":-23,"g":-20,"gl":-28},
{"f":155,"w":-7,"wl":-16,"r":-13,"rl":-22,"g":-19,"gl":-40},
{"f":157.5,"w":-2,"wl":-11,"r":-8,"rl":-19,"g":-16,"gl":-24},
{"f":160,"w":4.2,"wl":-8.9,"r":-5.9,"rl":-17.9,"g":-14.9,"gl":-22.9},
{"f":162.5,"w":-3,"wl":-14,"r":-11,"rl":-19,"g":-16,"gl":-24},
{"f":165,"w":-10,"wl":-19,"r":-16,"rl":-21,"g":-18,"gl":-26},
{"f":167.5,"w":-11.5,"wl":-20,"r":-17,"rl":-22.5,"g":-19.5,"gl":-27.5},
{"f":170,"w":-12,"wl":-20.5,"r":-17.5,"rl":-23,"g":-20,"gl":-28},
{"f":172.5,"w":-12,"wl":-21,"r":-18,"rl":-22.5,"g":-19.5,"gl":-27.5},
{"f":175,"w":-11.9,"wl":-20,"r":-17,"rl":-21.5,"g":-18.5,"gl":-26.5},
{"f":177.5,"w":-8,"wl":-15,"r":-12,"rl":-21,"g":-18,"gl":-26},
{"f":180,"w":-3.4,"wl":-11.9,"r":-8.9,"rl":-21.5,"g":-18.5,"gl":-26.5},
{"f":182.5,"w":-9,"wl":-17,"r":-14,"rl":-23,"g":-20,"gl":-28},
{"f":185,"w":-12.9,"wl":-20,"r":-17,"rl":-24,"g":-21,"gl":-29},
{"f":187.5,"w":-13.5,"wl":-21,"r":-18,"rl":-40,"g":-22,"gl":-30},
{"f":190,"w":-14,"wl":-22,"r":-19,"rl":-25,"g":-22,"gl":-40},
{"f":192.5,"w":-14,"wl":-22,"r":-19,"rl":-40,"g":-21,"gl":-29},
{"f":195,"w":-13.5,"wl":-21,"r":-18,"rl":-23,"g":-20,"gl":-28},
{"f":197.5,"w":-8,"wl":-19,"r":-16,"rl":-21.5,"g":-18.5,"gl":-26.5},
{"f":200,"w":-0.9,"wl":-16.9,"r":-13.9,"rl":-20,"g":-17,"gl":-25}
]
},
"columns": 3,
"bounds": "flush",
"spacing": {"row": 66, "column": 73},
"resolve": {"scale": {"color": "shared"}},
"concat": [
{
  "width": 182, "height": 159,
  "layer": [
    {"data": {"name": "a1"}, "mark": {"type": "line", "interpolate": "monotone", "strokeWidth": 3.5, "clip": true},
     "encoding": {
       "x": {"field": "t", "type": "quantitative", "scale": {"domain": [0, 0.422], "nice": false}, "axis": {"values": [0, 0.1, 0.2, 0.3], "title": "Time (μs)", "labelExpr": "datum.value + ''"}},
       "y": {"field": "v", "type": "quantitative", "scale": {"domain": [0.995, 1.005], "nice": false, "zero": false}, "axis": {"values": [0.995, 1, 1.005], "title": "R/R0", "labelExpr": "datum.value + ''"}},
       "color": {"field": "s", "type": "nominal", "scale": {"domain": ["water", "μ=4 mPa.s", "μ=8 mPa.s"], "range": ["#0000ff", "#ff0000", "#00ff00"]},
         "legend": {"title": null, "orient": "none", "legendX": 136, "legendY": -15, "symbolType": "stroke", "symbolStrokeWidth": 3.5, "symbolSize": 300, "labelFontSize": 14.5, "labelColor": "black", "strokeColor": "#888888", "fillColor": "white", "padding": 2.5, "rowPadding": 0, "labelOffset": 1}}
     }},
    {"data": {"values": [{}]}, "mark": {"type": "rule", "strokeDash": [6, 4], "strokeWidth": 2, "color": "black"}, "encoding": {"y": {"datum": 0.99688}}},
    {"data": {"values": [{}]}, "mark": {"type": "text", "text": "Rb/R0", "fontSize": 15, "color": "black"}, "encoding": {"x": {"datum": 0.3146}, "y": {"datum": 0.99573}}},
    {"data": {"values": [{}]}, "mark": {"type": "text", "text": "50kPa", "fontSize": 15, "fontWeight": "bold", "color": "black"}, "encoding": {"x": {"datum": 0.211}, "y": {"datum": 1.006}}},
    {"data": {"values": [{}]}, "mark": {"type": "text", "text": "A", "fontSize": 22, "fontWeight": "bold", "color": "black"}, "encoding": {"x": {"datum": -0.167}, "y": {"datum": 1.0062}}},
    {"data": {"values": [{}]}, "mark": {"type": "text", "text": "B", "fontSize": 22, "fontWeight": "bold", "color": "black"}, "encoding": {"x": {"datum": -0.167}, "y": {"datum": 0.99239}}}
  ]
},
{
  "width": 182, "height": 159,
  "layer": [
    {"data": {"name": "a2"}, "mark": {"type": "line", "interpolate": "monotone", "strokeWidth": 3.5, "clip": true},
     "encoding": {
       "x": {"field": "t", "type": "quantitative", "scale": {"domain": [0, 0.422], "nice": false}, "axis": {"values": [0, 0.1, 0.2, 0.3], "title": "Time (μs)", "labelExpr": "datum.value + ''"}},
       "y": {"field": "v", "type": "quantitative", "scale": {"domain": [0.4, 1.1], "nice": false, "zero": false}, "axis": {"values": [0.4, 0.6, 0.8, 1], "title": null, "labelExpr": "datum.value + ''"}},
       "color": {"field": "s", "type": "nominal", "scale": {"domain": ["water", "μ=4 mPa.s", "μ=8 mPa.s"], "range": ["#0000ff", "#ff0000", "#00ff00"]},
         "legend": {"title": null, "orient": "none", "legendX": 136, "legendY": -15, "symbolType": "stroke", "symbolStrokeWidth": 3.5, "symbolSize": 300, "labelFontSize": 14.5, "labelColor": "black", "strokeColor": "#888888", "fillColor": "white", "padding": 2.5, "rowPadding": 0, "labelOffset": 1}}
     }},
    {"data": {"values": [{}]}, "mark": {"type": "text", "text": "300kPa", "fontSize": 15, "fontWeight": "bold", "color": "black"}, "encoding": {"x": {"datum": 0.211}, "y": {"datum": 1.1704}}}
  ]
},
{
  "width": 182, "height": 159,
  "layer": [
    {"data": {"name": "a3"}, "mark": {"type": "line", "interpolate": "monotone", "strokeWidth": 3.5, "clip": true},
     "encoding": {
       "x": {"field": "t", "type": "quantitative", "scale": {"domain": [0, 0.422], "nice": false}, "axis": {"values": [0, 0.1, 0.2, 0.3], "title": "Time (μs)", "labelExpr": "datum.value + ''"}},
       "y": {"field": "v", "type": "quantitative", "scale": {"domain": [0.4, 1.1], "nice": false, "zero": false}, "axis": {"values": [0.4, 0.6, 0.8, 1], "title": null, "labelExpr": "datum.value + ''"}},
       "color": {"field": "s", "type": "nominal", "scale": {"domain": ["water", "μ=4 mPa.s", "μ=8 mPa.s"], "range": ["#0000ff", "#ff0000", "#00ff00"]},
         "legend": {"title": null, "orient": "none", "legendX": 136, "legendY": -15, "symbolType": "stroke", "symbolStrokeWidth": 3.5, "symbolSize": 300, "labelFontSize": 14.5, "labelColor": "black", "strokeColor": "#888888", "fillColor": "white", "padding": 2.5, "rowPadding": 0, "labelOffset": 1}}
     }},
    {"data": {"values": [{}]}, "mark": {"type": "text", "text": "600kPa", "fontSize": 15, "fontWeight": "bold", "color": "black"}, "encoding": {"x": {"datum": 0.211}, "y": {"datum": 1.1704}}}
  ]
},
{
  "width": 182, "height": 159,
  "data": {"name": "b1"},
  "encoding": {
    "x": {"field": "f", "type": "quantitative", "scale": {"domain": [0, 200], "nice": false}, "axis": {"values": [0, 100, 200], "title": "Frequency (MHz)", "labelExpr": "datum.value + ''"}},
    "y": {"field": "v", "type": "quantitative", "scale": {"domain": [-36, 12], "nice": false, "zero": false}, "axis": {"values": [-36, -24, -12, 0, 12], "title": "Scatt. ampl.(dB/fund. water)", "titlePadding": 11, "labelExpr": "datum.value + ''"}}
  },
  "layer": [
    {"transform": [{"filter": "datum.s === 'w'"}], "mark": {"type": "area", "color": "#0000ff", "clip": true}, "encoding": {"y2": {"datum": -40}}},
    {"transform": [{"filter": "datum.s === 'r'"}], "mark": {"type": "area", "color": "#ff0000", "clip": true}, "encoding": {"y2": {"datum": -40}}},
    {"transform": [{"filter": "datum.s === 'g'"}], "mark": {"type": "area", "color": "#00ff00", "clip": true}, "encoding": {"y2": {"datum": -40}}}
  ]
},
{
  "width": 182, "height": 159,
  "data": {"name": "b2"},
  "encoding": {
    "x": {"field": "f", "type": "quantitative", "scale": {"domain": [0, 200], "nice": false}, "axis": {"values": [0, 100, 200], "title": "Frequency (MHz)", "labelExpr": "datum.value + ''"}}
  },
  "layer": [
    {"mark": {"type": "area", "color": "#0000ff", "stroke": "#0000ff", "strokeWidth": 1.5, "clip": true}, "encoding": {"y": {"field": "w", "type": "quantitative", "scale": {"domain": [-36, 12], "nice": false, "zero": false}, "axis": {"values": [-36, -24, -12, 0, 12], "title": null, "labelExpr": "datum.value + ''"}}, "y2": {"field": "wl"}}},
    {"mark": {"type": "area", "color": "#ff0000", "stroke": "#ff0000", "strokeWidth": 1.5, "clip": true}, "encoding": {"y": {"field": "r", "type": "quantitative", "scale": {"domain": [-36, 12], "nice": false, "zero": false}, "axis": {"values": [-36, -24, -12, 0, 12], "title": null, "labelExpr": "datum.value + ''"}}, "y2": {"field": "rl"}}},
    {"mark": {"type": "area", "color": "#00ff00", "stroke": "#00ff00", "strokeWidth": 1.5, "clip": true}, "encoding": {"y": {"field": "g", "type": "quantitative", "scale": {"domain": [-36, 12], "nice": false, "zero": false}, "axis": {"values": [-36, -24, -12, 0, 12], "title": null, "labelExpr": "datum.value + ''"}}, "y2": {"field": "gl"}}}
  ]
},
{
  "width": 182, "height": 159,
  "data": {"name": "b3"},
  "encoding": {
    "x": {"field": "f", "type": "quantitative", "scale": {"domain": [0, 200], "nice": false}, "axis": {"values": [0, 100, 200], "title": "Frequency (MHz)", "labelExpr": "datum.value + ''"}}
  },
  "layer": [
    {"mark": {"type": "area", "color": "#0000ff", "stroke": "#0000ff", "strokeWidth": 1.5, "clip": true}, "encoding": {"y": {"field": "w", "type": "quantitative", "scale": {"domain": [-36, 12], "nice": false, "zero": false}, "axis": {"values": [-36, -24, -12, 0, 12], "title": null, "labelExpr": "datum.value + ''"}}, "y2": {"field": "wl"}}},
    {"mark": {"type": "area", "color": "#ff0000", "stroke": "#ff0000", "strokeWidth": 1.5, "clip": true}, "encoding": {"y": {"field": "r", "type": "quantitative", "scale": {"domain": [-36, 12], "nice": false, "zero": false}, "axis": {"values": [-36, -24, -12, 0, 12], "title": null, "labelExpr": "datum.value + ''"}}, "y2": {"field": "rl"}}},
    {"mark": {"type": "area", "color": "#00ff00", "stroke": "#00ff00", "strokeWidth": 1.5, "clip": true}, "encoding": {"y": {"field": "g", "type": "quantitative", "scale": {"domain": [-36, 12], "nice": false, "zero": false}, "axis": {"values": [-36, -24, -12, 0, 12], "title": null, "labelExpr": "datum.value + ''"}}, "y2": {"field": "gl"}}}
  ]
}
]
}
